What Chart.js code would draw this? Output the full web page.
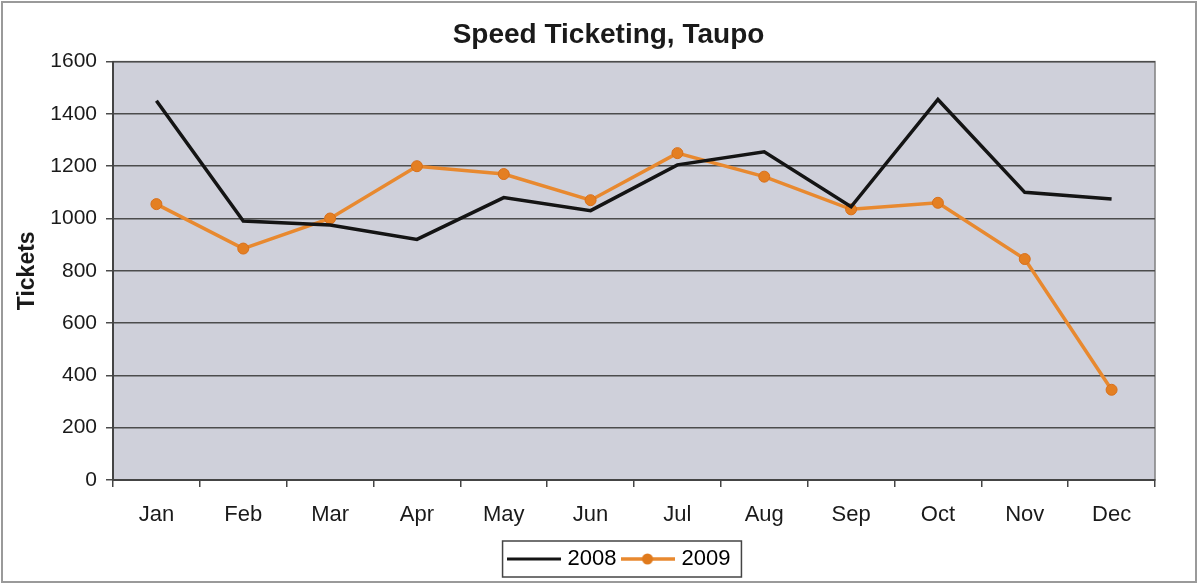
<!DOCTYPE html>
<html>
<head>
<meta charset="utf-8">
<script src="https://cdn.jsdelivr.net/npm/chart.js@4"></script>
<style>
  html, body { margin: 0; padding: 0; background: #fff; }
  #wrap { width: 1198px; height: 586px; }
</style>
</head>
<body>
<div id="wrap"><canvas id="chart" width="1198" height="586"></canvas></div>
<script>
// data
const months = ["Jan", "Feb", "Mar", "Apr", "May", "Jun", "Jul", "Aug", "Sep", "Oct", "Nov", "Dec"];
const tickets2008 = [1450, 990, 975, 920, 1080, 1030, 1205, 1255, 1045, 1455, 1100, 1075];
const tickets2009 = [1055, 885, 1000, 1200, 1170, 1070, 1250, 1160, 1035, 1060, 845, 345];
const yTicks = [0, 200, 400, 600, 800, 1000, 1200, 1400, 1600];

const BLACK = "#141414";
const ORANGE = "#e8892f";
const FONT = "'Liberation Sans', Arial, sans-serif";

// little legend swatches: a line, with a dot for 2009
function swatch(color, withDot) {
    const c = document.createElement("canvas");
    c.width = 54; c.height = 14;
    const g = c.getContext("2d");
    g.strokeStyle = color;
    g.lineWidth = withDot ? 3.5 : 3;
    g.beginPath(); g.moveTo(0, 7); g.lineTo(54, 7); g.stroke();
    if (withDot) {
        g.fillStyle = "#e07a1c";
        g.beginPath(); g.arc(27, 7, 5.5, 0, Math.PI * 2); g.fill();
    }
    return c;
}

// plot background + outer frame + legend border
const decor = {
    id: "decor",
    afterLayout(chart) {
        // nudge title and legend to where they sit in the original
        chart.titleBlock.left += 24; chart.titleBlock.right += 24;
        chart.legend.left += 36; chart.legend.right += 36;
    },
    beforeDraw(chart) {
        const { ctx, chartArea: a } = chart;
        ctx.save();
        ctx.fillStyle = "#fff";
        ctx.fillRect(0, 0, chart.width, chart.height);
        ctx.strokeStyle = "#9a9a9a";
        ctx.lineWidth = 2;
        ctx.strokeRect(2, 2, chart.width - 4, chart.height - 6);
        ctx.fillStyle = "#cfd0da";
        ctx.fillRect(a.left, a.top, a.right - a.left, a.bottom - a.top);
        ctx.strokeStyle = "#808080";
        ctx.lineWidth = 1.5;
        ctx.strokeRect(a.left, a.top, a.right - a.left, a.bottom - a.top);
        ctx.restore();
    },
    afterDraw(chart) {
        const boxes = chart.legend.legendHitBoxes;
        if (!boxes || !boxes.length) return;
        const first = boxes[0], last = boxes[boxes.length - 1];
        const { ctx } = chart;
        ctx.save();
        ctx.strokeStyle = "#444";
        ctx.lineWidth = 1.5;
        const x0 = first.left - 8, x1 = last.left + last.width + 11;
        const y0 = first.top - 7, y1 = first.top + first.height + 7;
        ctx.strokeRect(x0, y0, x1 - x0, y1 - y0);
        ctx.restore();
    }
};

const ctx = document.getElementById("chart").getContext("2d");
new Chart(ctx, {
    type: "line",
    data: {
        labels: months,
        datasets: [
            {
                label: "2008",
                data: tickets2008,
                borderColor: BLACK,
                backgroundColor: BLACK,
                borderWidth: 3.5,
                pointRadius: 0,
                pointHoverRadius: 0,
                tension: 0,
            },
            {
                label: "2009",
                data: tickets2009,
                borderColor: ORANGE,
                backgroundColor: ORANGE,
                borderWidth: 3.5,
                pointRadius: 5.5,
                pointBackgroundColor: "#e47f22",
                pointBorderColor: "#d9701a",
                pointBorderWidth: 1,
                tension: 0,
            },
        ],
    },
    options: {
        responsive: false,
        animation: false,
        layout: { padding: { left: 14, right: 43, top: 10, bottom: 6 } },
        plugins: {
            title: {
                display: true,
                text: "Speed Ticketing, Taupo",
                color: "#1a1a1a",
                font: { family: FONT, size: 28, weight: "bold" },
                padding: { top: 8, bottom: 10 },
            },
            legend: {
                position: "bottom",
                labels: {
                    color: "#1a1a1a",
                    font: { family: FONT, size: 22 },
                    usePointStyle: true,
                    pointStyleWidth: 46,
                    padding: 8,
                    generateLabels(chart) {
                        return chart.data.datasets.map((ds, i) => ({
                            text: ds.label,
                            pointStyle: swatch(ds.borderColor, i === 1),
                            fillStyle: ds.borderColor,
                            strokeStyle: ds.borderColor,
                            lineWidth: 0,
                            hidden: false,
                            datasetIndex: i,
                        }));
                    },
                },
            },
            tooltip: { enabled: false },
        },
        scales: {
            x: {
                offset: true,
                grid: {
                    offset: true,
                    drawOnChartArea: false,
                    drawTicks: true,
                    tickLength: 7,
                    color: "#444",
                    lineWidth: 1.5,
                },
                border: { color: "#444", width: 2 },
                ticks: {
                    color: "#1a1a1a",
                    padding: 15,
                    font: { family: FONT, size: 22 },
                    maxRotation: 0,
                },
                afterFit(scale) { scale.height = 60; },
            },
            y: {
                min: 0,
                max: 1600,
                afterBuildTicks(scale) { scale.ticks = yTicks.map(v => ({ value: v })); },
                grid: {
                    color: "#4c4c4c",
                    lineWidth: 1.5,
                    tickLength: 7,
                },
                border: { color: "#444", width: 2 },
                ticks: {
                    color: "#1a1a1a",
                    padding: 9,
                    font: { family: FONT, size: 21 },
                    callback: v => String(v),
                },
                title: {
                    display: true,
                    text: "Tickets",
                    color: "#1a1a1a",
                    font: { family: FONT, size: 23, weight: "bold" },
                    padding: { top: 0, bottom: 0 },
                },
                afterFit(scale) { scale.width = 99; },
            },
        },
    },
    plugins: [decor],
});
</script>
</body>
</html>
